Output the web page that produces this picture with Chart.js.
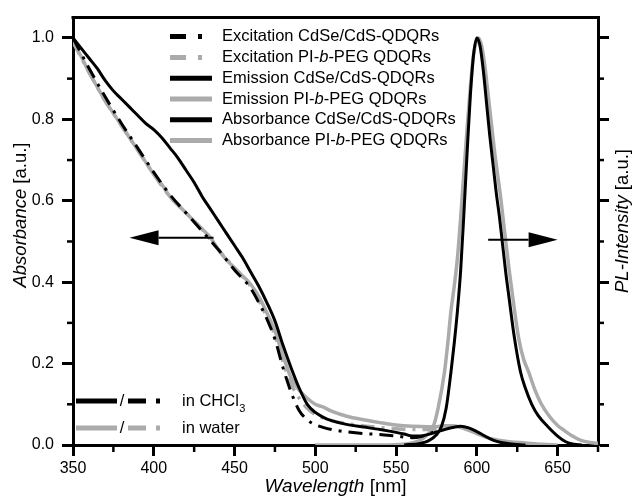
<!DOCTYPE html>
<html>
<head>
<meta charset="utf-8">
<script src="https://cdn.jsdelivr.net/npm/chart.js@4.4.1/dist/chart.umd.min.js"></script>
<style>
  html, body { margin: 0; padding: 0; background: #fff; }
  canvas { display: block; }
</style>
</head>
<body>
<canvas id="chart" width="635" height="498"></canvas>
<script>
const FONT = "'Liberation Sans', Arial, sans-serif";
const BLACK = '#000000';
const GREY = '#ababab';

// Excitation spectra (left axis)
const excCdSeNm  = [350, 360, 370, 380, 390, 400, 410, 420, 430, 440, 450, 460, 465, 470, 475, 480, 485, 490, 495, 500, 510, 520, 530, 540, 550, 560, 565, 570, 575];
const excCdSeVal = [1.0, 0.925, 0.855, 0.79, 0.73, 0.67, 0.615, 0.57, 0.525, 0.48, 0.43, 0.385, 0.35, 0.31, 0.26, 0.19, 0.13, 0.085, 0.062, 0.05, 0.038, 0.032, 0.028, 0.026, 0.022, 0.018, 0.02, 0.027, 0.034];
const excPegNm   = [350, 360, 370, 380, 390, 400, 410, 420, 430, 440, 450, 460, 465, 470, 475, 480, 485, 490, 495, 500, 510, 520, 530, 540, 550, 560, 570, 575];
const excPegVal  = [0.99, 0.915, 0.845, 0.785, 0.725, 0.665, 0.61, 0.57, 0.53, 0.48, 0.435, 0.39, 0.355, 0.315, 0.27, 0.205, 0.15, 0.115, 0.09, 0.075, 0.06, 0.052, 0.047, 0.043, 0.04, 0.038, 0.038, 0.04];

// Emission spectra (right axis)
const emCdSeNm  = [555, 565, 570, 575, 578, 581, 584, 586, 588, 590, 592, 594, 596, 598, 600, 602, 604, 606, 608, 610, 612, 614, 616, 618, 620, 623, 627, 630, 634, 638, 644, 650, 655, 660, 665];
const emCdSeVal = [0.0, 0.004, 0.01, 0.025, 0.044, 0.09, 0.18, 0.25, 0.33, 0.43, 0.57, 0.72, 0.86, 0.96, 1.0, 0.98, 0.92, 0.84, 0.76, 0.69, 0.62, 0.56, 0.49, 0.42, 0.36, 0.27, 0.18, 0.14, 0.10, 0.072, 0.045, 0.022, 0.008, 0.002, 0.0];
const emPegNm   = [500, 520, 540, 555, 565, 570, 573, 576, 580, 582, 584, 586, 588, 590, 592, 594, 596, 598, 600, 601, 603, 605, 607, 609, 611, 613, 615, 617, 620, 623, 626, 629, 632, 636, 640, 645, 650, 654, 660, 664, 670, 675];
const emPegVal  = [0.0, 0.0, 0.0, 0.002, 0.012, 0.028, 0.045, 0.09, 0.18, 0.25, 0.33, 0.39, 0.46, 0.56, 0.67, 0.78, 0.88, 0.96, 0.995, 1.0, 0.98, 0.93, 0.86, 0.79, 0.72, 0.66, 0.60, 0.53, 0.43, 0.34, 0.26, 0.21, 0.18, 0.135, 0.10, 0.07, 0.048, 0.036, 0.02, 0.012, 0.006, 0.004];

// Absorbance spectra (left axis)
const absCdSeNm  = [350, 355, 360, 365, 370, 375, 380, 385, 390, 395, 400, 405, 410, 415, 420, 425, 430, 435, 440, 445, 450, 455, 460, 465, 470, 475, 480, 485, 490, 495, 500, 505, 510, 520, 530, 540, 550, 555, 560, 565, 570, 575, 580, 585, 590, 595, 600, 605, 610, 615, 620, 630];
const absCdSeVal = [1.0, 0.975, 0.95, 0.925, 0.895, 0.87, 0.85, 0.83, 0.81, 0.79, 0.775, 0.755, 0.73, 0.705, 0.675, 0.645, 0.61, 0.58, 0.55, 0.52, 0.49, 0.46, 0.425, 0.39, 0.35, 0.305, 0.245, 0.19, 0.14, 0.10, 0.08, 0.068, 0.06, 0.05, 0.044, 0.038, 0.031, 0.027, 0.022, 0.022, 0.026, 0.032, 0.038, 0.043, 0.046, 0.042, 0.033, 0.022, 0.012, 0.006, 0.003, 0.0];
const absPegNm   = [350, 355, 360, 365, 370, 375, 380, 385, 390, 395, 400, 405, 410, 415, 420, 425, 430, 435, 440, 445, 450, 455, 460, 465, 470, 475, 480, 485, 490, 495, 500, 505, 510, 520, 530, 540, 550, 560, 570, 575, 580, 585, 590, 595, 600, 605, 610, 620, 630, 640, 650];
const absPegVal  = [0.99, 0.955, 0.915, 0.88, 0.845, 0.815, 0.785, 0.755, 0.725, 0.695, 0.665, 0.64, 0.61, 0.59, 0.57, 0.55, 0.53, 0.51, 0.48, 0.455, 0.435, 0.415, 0.395, 0.365, 0.325, 0.28, 0.22, 0.165, 0.135, 0.115, 0.10, 0.093, 0.083, 0.07, 0.062, 0.055, 0.049, 0.046, 0.045, 0.045, 0.047, 0.047, 0.043, 0.036, 0.028, 0.02, 0.014, 0.008, 0.005, 0.002, 0.0];

const seriesLabels = [
  'Excitation CdSe/CdS-QDQRs', 'Excitation PI-b-PEG QDQRs',
  'Emission CdSe/CdS-QDQRs', 'Emission PI-b-PEG QDQRs',
  'Absorbance CdSe/CdS-QDQRs', 'Absorbance PI-b-PEG QDQRs'
];
const solventLabels = ['in CHCl', 'in water'];

// minor tick positions
const minorX = [375, 425, 475, 525, 575, 625, 675];
const minorY = [0.1, 0.3, 0.5, 0.7, 0.9];

// arrows: [tail nm, tip nm, value]
const arrowAbs = [437, 385, 0.509];
const arrowPL = [607, 650, 0.504];

const DASHDOT = [14, 7, 3, 7];

function pts(xs, ys) {
  return xs.map((x, i) => ({ x: x, y: ys[i] }));
}

function splitItalic(label) {
  // "PI-b-PEG" has an italic b
  return label.split(/(?<=-)(b)(?=-)/).map((t, i) => [t, i % 2 === 1]);
}

function drawParts(ctx, parts, x, y, size, align) {
  let total = 0;
  parts.forEach(p => {
    ctx.font = (p[1] ? 'italic ' : '') + size + 'px ' + FONT;
    total += ctx.measureText(p[0]).width;
  });
  let cx = align === 'center' ? x - total / 2 : x;
  ctx.textAlign = 'left';
  ctx.textBaseline = 'middle';
  parts.forEach(p => {
    ctx.font = (p[1] ? 'italic ' : '') + size + 'px ' + FONT;
    ctx.fillText(p[0], cx, y);
    cx += ctx.measureText(p[0]).width;
  });
  return cx;
}

function seg(ctx, x1, y1, x2, y2) {
  ctx.beginPath();
  ctx.moveTo(x1, y1);
  ctx.lineTo(x2, y2);
  ctx.stroke();
}

function arrow(ctx, xTail, xTip, y) {
  const dir = xTip > xTail ? 1 : -1;
  const head = 29, half = 7.5;
  ctx.lineWidth = 2;
  seg(ctx, xTail, y, xTip - dir * head, y);
  ctx.beginPath();
  ctx.moveTo(xTip, y);
  ctx.lineTo(xTip - dir * head, y - half);
  ctx.lineTo(xTip - dir * head, y + half);
  ctx.closePath();
  ctx.fill();
}

const decor = {
  id: 'decor',
  afterDraw(chart) {
    const { ctx, chartArea: a, scales } = chart;
    ctx.save();
    ctx.strokeStyle = BLACK;
    ctx.fillStyle = BLACK;
    ctx.setLineDash([]);

    // top frame line
    ctx.lineWidth = 3;
    seg(ctx, a.left - 1.5, a.top, a.right + 1.5, a.top);

    // minor ticks
    ctx.lineWidth = 2.5;
    minorX.forEach(v => {
      const px = scales.x.getPixelForValue(v);
      seg(ctx, px, a.bottom, px, a.bottom + 7);
    });
    minorY.forEach(v => {
      const py = scales.y.getPixelForValue(v);
      seg(ctx, a.left - 6, py, a.left, py);
      const py2 = scales.y2.getPixelForValue(v);
      seg(ctx, a.right, py2, a.right + 6, py2);
    });

    // arrows
    arrow(ctx, scales.x.getPixelForValue(arrowAbs[0]), scales.x.getPixelForValue(arrowAbs[1]), scales.y.getPixelForValue(arrowAbs[2]));
    arrow(ctx, scales.x.getPixelForValue(arrowPL[0]), scales.x.getPixelForValue(arrowPL[1]), scales.y2.getPixelForValue(arrowPL[2]));

    // series legend
    chart.data.datasets.forEach((ds, i) => {
      const y = a.top + 19 + i * 20.8;
      ctx.strokeStyle = ds.borderColor;
      ctx.lineWidth = 5;
      ctx.setLineDash(ds.borderDash ? [16, 12, 4, 30] : []);
      seg(ctx, a.left + 97, y, a.left + 139, y);
      ctx.setLineDash([]);
      ctx.fillStyle = BLACK;
      drawParts(ctx, splitItalic(ds.label), a.left + 149, y, 16.5, 'left');
    });

    // solvent legend
    [BLACK, GREY].forEach((c, i) => {
      const y = a.bottom - 44 + i * 27;
      ctx.strokeStyle = c;
      ctx.lineWidth = 5;
      seg(ctx, a.left + 3, y, a.left + 44, y);
      ctx.setLineDash([18, 10, 4, 20]);
      seg(ctx, a.left + 55, y, a.left + 87, y);
      ctx.setLineDash([]);
      ctx.fillStyle = BLACK;
      drawParts(ctx, [['/', false]], a.left + 49, y, 16.5, 'center');
      const end = drawParts(ctx, [[solventLabels[i], false]], a.left + 109, y, 16.5, 'left');
      if (i === 0) {
        ctx.font = '11px ' + FONT;
        ctx.fillText('3', end + 0.5, y + 8);
      }
    });

    // axis titles
    ctx.fillStyle = BLACK;
    drawParts(ctx, [['Wavelength', true], [' [nm]', false]], 335.5, 487, 19, 'center');
    ctx.save();
    ctx.translate(21, 215);
    ctx.rotate(-Math.PI / 2);
    drawParts(ctx, [['Absorbance', true], [' [a.u.]', false]], 0, 0, 18.5, 'center');
    ctx.restore();
    ctx.save();
    ctx.translate(623, 221);
    ctx.rotate(-Math.PI / 2);
    drawParts(ctx, [['PL-Intensity', true], [' [a.u.]', false]], 0, 0, 18.5, 'center');
    ctx.restore();

    ctx.restore();
  }
};

function line(label, nm, val, color, axis, dashed) {
  const black = color === BLACK;
  return {
    label: label,
    data: pts(nm, val),
    borderColor: color,
    borderWidth: black ? 3 : 3.5,
    borderDash: dashed ? DASHDOT : undefined,
    yAxisID: axis,
    order: black ? 0 : 2,
    pointRadius: 0,
    fill: false,
    cubicInterpolationMode: 'monotone',
    borderJoinStyle: 'round'
  };
}

function axisStyle() {
  return {
    border: { display: true, color: BLACK, width: 3 },
    grid: { display: true, drawOnChartArea: false, drawTicks: true, tickLength: 11, tickWidth: 3, tickColor: BLACK }
  };
}

Chart.defaults.font.family = FONT;
Chart.defaults.color = BLACK;

new Chart(document.getElementById('chart').getContext('2d'), {
  type: 'line',
  data: {
    datasets: [
      line(seriesLabels[0], excCdSeNm, excCdSeVal, BLACK, 'y', true),
      line(seriesLabels[1], excPegNm, excPegVal, GREY, 'y', true),
      line(seriesLabels[2], emCdSeNm, emCdSeVal, BLACK, 'y2', false),
      line(seriesLabels[3], emPegNm, emPegVal, GREY, 'y2', false),
      line(seriesLabels[4], absCdSeNm, absCdSeVal, BLACK, 'y', false),
      line(seriesLabels[5], absPegNm, absPegVal, GREY, 'y', false)
    ]
  },
  options: {
    responsive: false,
    animation: false,
    devicePixelRatio: 1,
    layout: { padding: { top: 12 } },
    plugins: { legend: { display: false }, tooltip: { enabled: false } },
    scales: {
      x: {
        type: 'linear', position: 'bottom', min: 350, max: 675,
        afterFit: s => { s.height = 53; },
        ...axisStyle(),
        ticks: { stepSize: 50, includeBounds: false, autoSkip: false, maxRotation: 0, padding: 3, font: { size: 16 }, color: BLACK }
      },
      y: {
        type: 'linear', position: 'left', min: 0, max: 1.05,
        afterFit: s => { s.width = 73; },
        ...axisStyle(),
        ticks: { stepSize: 0.2, includeBounds: false, autoSkip: false, padding: 8, font: { size: 16 }, color: BLACK, callback: v => v.toFixed(1) }
      },
      y2: {
        type: 'linear', position: 'right', min: 0, max: 1.05,
        afterFit: s => { s.width = 37; },
        ...axisStyle(),
        ticks: { stepSize: 0.2, includeBounds: false, autoSkip: false, callback: () => '' }
      }
    }
  },
  plugins: [decor]
});
</script>
</body>
</html>
